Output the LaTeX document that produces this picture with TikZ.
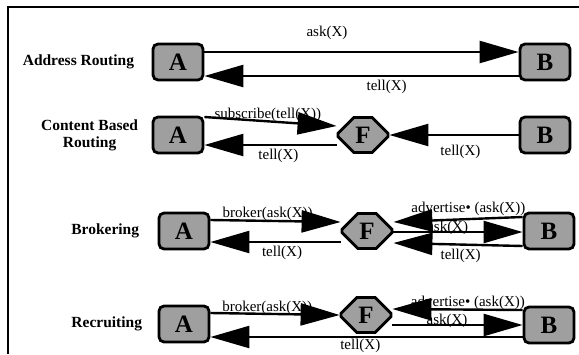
\documentclass[tikz,border=0pt]{standalone}
\usepackage{fontspec}
\setmainfont{Liberation Serif}
\usetikzlibrary{positioning,arrows.meta,shapes.misc}

\begin{document}
\begin{tikzpicture}[x=1pt,y=-1pt,
	agentbox/.style={draw, line width=2.8pt, rounded corners=5pt, fill=gray!75!white,
		minimum width=50pt, minimum height=36pt, inner sep=0pt,
		font=\fontsize{25}{25}\selectfont\bfseries},
	facilbox/.style={draw, chamfered rectangle, chamfered rectangle xsep=9pt,
		chamfered rectangle ysep=9pt, line width=2.8pt, fill=gray!75!white,
		minimum width=50pt, minimum height=35pt, inner sep=0pt,
		font=\fontsize{25}{25}\selectfont\bfseries},
	msg/.style={line width=2.4pt, -{Triangle[length=39pt,width=22pt]}},
	msglabel/.style={font=\fontsize{15}{16}\selectfont, inner sep=1pt},
	rowlabel/.style={font=\fontsize{15.5}{17}\selectfont\bfseries, align=center}]

	\useasboundingbox (0,0) rectangle (579,354);
	\draw[line width=1.8pt] (8,354) -- (8,7) -- (579,7);

	% address routing
	\node[agentbox] (A1) at (178,62) {A};
	\node[agentbox] (B1) at (545,62) {B};
	\node[rowlabel, left=14pt of A1] (lbladdr) {Address Routing};
	\draw[msg] ([yshift=10pt]A1.east) -- node[msglabel, pos=.39, above=10pt] (ask1) {ask(X)} ([yshift=10pt]B1.west);
	\draw[msg] ([yshift=-14pt]B1.west) -- node[msglabel, pos=.42, below=2pt] (tell1) {tell(X)} ([yshift=-14pt]A1.east);

	% content based routing
	\node[agentbox] (A2) at (178,135) {A};
	\node[facilbox] (F2) at (363,135) {F};
	\node[agentbox] (B2) at (545,135) {B};
	\node[rowlabel, left=10pt of A2] (lblcont) {Content Based\\Routing};
	\draw[msg] ([yshift=18pt]A2.east) -- node[msglabel, pos=.48, above=-3pt] (sub2) {subscribe(tell(X))} ([yshift=9pt]F2.west);
	\draw[msg] ([yshift=-10pt]F2.west) -- node[msglabel, pos=.44, below=2pt] (tell2a) {tell(X)} ([yshift=-10pt]A2.east);
	\draw[msg] (B2.west) -- node[msglabel, pos=.45, below=8pt] (tell2b) {tell(X)} (F2.east);

	% brokering
	\node[agentbox] (A3) at (184,231) {A};
	\node[facilbox] (F3) at (367,231) {F};
	\node[agentbox] (B3) at (549,231) {B};
	\node[rowlabel, left=15pt of A3] (lblbrok) {Brokering};
	\draw[msg] ([yshift=11pt]A3.east) -- node[msglabel, pos=.44, above=-2pt] (brok3) {broker(ask(X))} ([yshift=9pt]F3.west);
	\draw[msg] ([yshift=-11pt]F3.west) -- node[msglabel, pos=.45, below=2pt] (tell3a) {tell(X)} ([yshift=-11pt]A3.east);
	\draw[msg] ([yshift=14pt]B3.west) -- node[msglabel, pos=.42, above=1pt] (adv3) {advertise• (ask(X))} ([yshift=9pt]F3.east);
	\draw[msg] ([yshift=-1pt]F3.east) -- node[msglabel, pos=.42, above=-5pt] (ask3) {ask(X)} ([yshift=-1pt]B3.west);
	\draw[msg] ([yshift=-15pt]B3.west) -- node[msglabel, pos=.48, below=2pt] (tell3b) {tell(X)} ([yshift=-12pt]F3.east);

	% recruiting
	\node[agentbox] (A4) at (184,324) {A};
	\node[facilbox] (F4) at (366,315) {F};
	\node[agentbox] (B4) at (549,325) {B};
	\node[rowlabel, left=12pt of A4] (lblrecr) {Recruiting};
	\draw[msg] ([yshift=11pt]A4.east) -- node[msglabel, pos=.44, above=-3pt] (brok4) {broker(ask(X))} (F4.west);
	\draw[msg] ([yshift=15pt]B4.west) -- node[msglabel, pos=.42, above=-2pt] (adv4) {advertise• (ask(X))} ([yshift=6pt]F4.east);
	\draw[msg] ([yshift=-10pt]F4.east) -- node[msglabel, pos=.42, above=-5pt] (ask4) {ask(X)} (B4.west);
	\draw[msg] ([yshift=-12pt]B4.west) -- node[msglabel, pos=.52, below=0pt] (tell4) {tell(X)} ([yshift=-13pt]A4.east);

\end{tikzpicture}
\end{document}
